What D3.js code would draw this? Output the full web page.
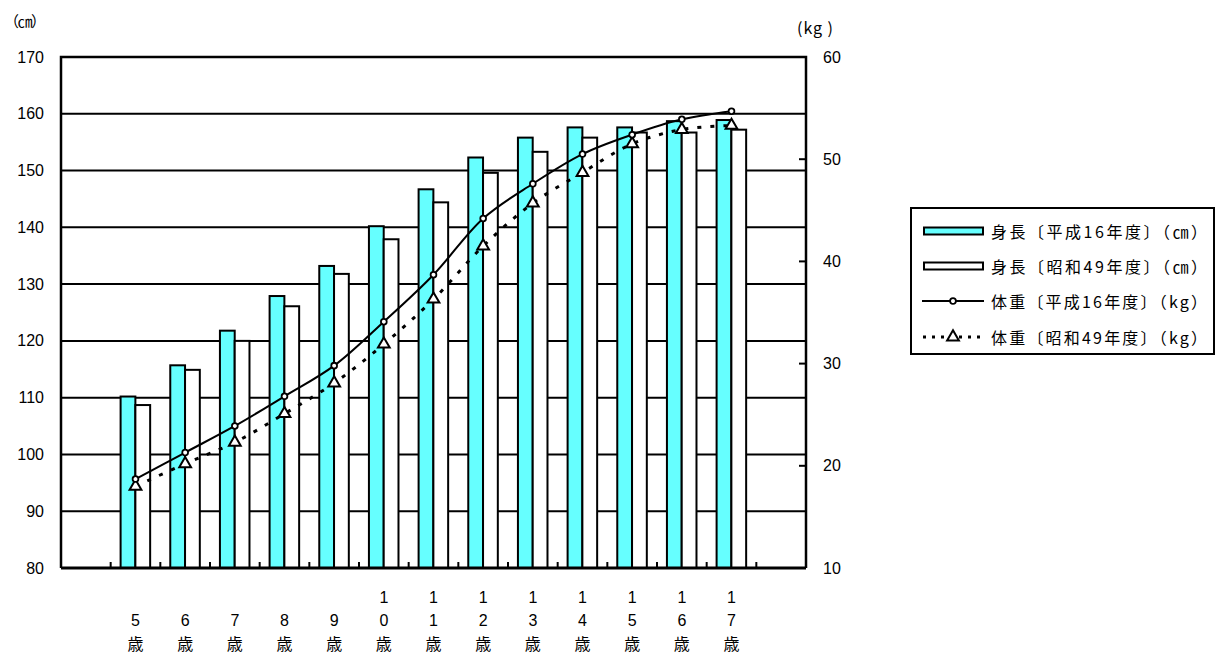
<!DOCTYPE html>
<html><head><meta charset="utf-8">
<script src="https://cdn.jsdelivr.net/npm/d3@7"></script>
<style>
html,body{margin:0;padding:0;background:#fff;}
svg{display:block;}
text{font-family:"Liberation Sans","Noto Sans CJK JP",sans-serif;fill:#000;}
.jp{font-family:"Noto Sans CJK JP","Liberation Sans",sans-serif;}
</style>
</head><body>
<svg id="chart" width="1221" height="654"></svg>
<script>
const ages = ["5","6","7","8","9","10","11","12","13","14","15","16","17"];
const heightH16 = [110.2,115.7,121.8,127.9,133.2,140.2,146.7,152.3,155.8,157.6,157.6,158.7,158.9];
const heightS49 = [108.7,114.9,120.0,126.1,131.8,137.9,144.4,149.6,153.3,155.8,156.7,156.7,157.2];
const weightH16 = [18.7,21.3,23.9,26.8,29.8,34.1,38.7,44.2,47.6,50.5,52.4,53.9,54.7];
const weightS49 = [18.0,20.2,22.3,25.1,28.1,31.9,36.3,41.5,45.7,48.7,51.5,52.9,53.3];
const leftTicks = [80,90,100,110,120,130,140,150,160,170];
const rightTicks = [10,20,30,40,50,60];
const legendLabels = ["身長〔平成16年度〕（㎝）","身長〔昭和49年度〕（㎝）","体重〔平成16年度〕（kg）","体重〔昭和49年度〕（kg）"];

const svg = d3.select("#chart");
const L = 61, R = 806, T = 57, B = 568;
const slot = (R - L) / 15;
const x = d3.scaleBand().domain(ages).range([L + slot, R - slot]);
const xs = d3.scaleBand().domain(["h16","s49"]).range([0.2*x.bandwidth(), 0.795*x.bandwidth()]);
const yL = d3.scaleLinear().domain([80,170]).range([B,T]);
const yR = d3.scaleLinear().domain([10,60]).range([B,T]);
const cx = a => x(a) + x.bandwidth()/2;

// gridlines
svg.append("g").selectAll("line").data(leftTicks.filter(v=>v>80 && v<170)).join("line")
  .attr("x1",L).attr("x2",R).attr("y1",d=>yL(d)).attr("y2",d=>yL(d))
  .attr("stroke","#000").attr("stroke-width",2);

// bars
const bars = svg.append("g");
ages.forEach((a,i)=>{
  bars.append("rect").attr("x",x(a)+xs("h16")).attr("width",xs.bandwidth())
    .attr("y",yL(heightH16[i])).attr("height",B-yL(heightH16[i]))
    .attr("fill","#66ffff").attr("stroke","#000").attr("stroke-width",2);
  bars.append("rect").attr("x",x(a)+xs("s49")).attr("width",xs.bandwidth())
    .attr("y",yL(heightS49[i])).attr("height",B-yL(heightS49[i]))
    .attr("fill","#fff").attr("stroke","#000").attr("stroke-width",2);
});

// plot frame
svg.append("path").attr("d",`M${L},${B}V${T}H${R}V${B}`).attr("fill","none").attr("stroke","#000").attr("stroke-width",2.5);
svg.append("line").attr("x1",L).attr("x2",R).attr("y1",B).attr("y2",B).attr("stroke","#000").attr("stroke-width",3);

// x ticks (inward) at category boundaries
const bounds = ages.map(a=>x(a)).concat([x(ages[ages.length-1])+x.bandwidth()]);
svg.append("g").selectAll("line").data(bounds).join("line")
  .attr("x1",d=>d).attr("x2",d=>d).attr("y1",B).attr("y2",B-6)
  .attr("stroke","#000").attr("stroke-width",2);

// right ticks
svg.append("g").selectAll("line").data(rightTicks).join("line")
  .attr("x1",R).attr("x2",R-7).attr("y1",d=>yR(d)).attr("y2",d=>yR(d))
  .attr("stroke","#000").attr("stroke-width",2);

// left tick labels
svg.append("g").selectAll("text").data(leftTicks).join("text")
  .attr("x",44).attr("y",d=>yL(d)).attr("text-anchor","end").attr("dominant-baseline","central")
  .attr("font-size",16).text(d=>d);
// right tick labels
svg.append("g").selectAll("text").data(rightTicks).join("text")
  .attr("x",823).attr("y",d=>yR(d)).attr("text-anchor","start").attr("dominant-baseline","central")
  .attr("font-size",16).text(d=>d);

// unit labels
svg.append("text").attr("class","jp").attr("x",4).attr("y",20).attr("dominant-baseline","central").attr("font-size",15).attr("textLength",42).attr("lengthAdjust","spacing").text("（㎝）");
svg.append("text").attr("class","jp").attr("x",797).attr("y",27).attr("dominant-baseline","central").attr("font-size",16).attr("textLength",36).attr("lengthAdjust","spacing").text("(kg )");

// x labels stacked vertically
const xl = svg.append("g");
ages.forEach(a=>{
  const chars = a.split("").concat(["歳"]);
  chars.forEach((c,j)=>{
    const row = j - (chars.length - 1); // last row = 0
    xl.append("text").attr("class", c==="歳"?"jp":null)
      .attr("x",cx(a)).attr("y",643 + row*23).attr("text-anchor","middle")
      .attr("dominant-baseline","central").attr("font-size",16).text(c);
  });
});

// lines
const lineH = d3.line().x((d,i)=>cx(ages[i])).y(d=>yR(d)).curve(d3.curveCatmullRom.alpha(0.5));
svg.append("path").attr("d",lineH(weightS49)).attr("fill","none").attr("stroke","#000")
  .attr("stroke-width",3).attr("stroke-dasharray","4,9");
svg.append("path").attr("d",lineH(weightH16)).attr("fill","none").attr("stroke","#000")
  .attr("stroke-width",2);

const tri = d3.symbol().type(d3.symbolTriangle).size(60);
const dot = d3.symbol().type(d3.symbolCircle).size(26);
svg.append("g").selectAll("path").data(weightS49).join("path")
  .attr("transform",(d,i)=>`translate(${cx(ages[i])},${yR(d)})`).attr("d",tri)
  .attr("fill","#fff").attr("stroke","#000").attr("stroke-width",2);
svg.append("g").selectAll("path").data(weightH16).join("path")
  .attr("transform",(d,i)=>`translate(${cx(ages[i])},${yR(d)})`).attr("d",dot)
  .attr("fill","#fff").attr("stroke","#000").attr("stroke-width",1.8);

// legend
const lg = svg.append("g");
lg.append("rect").attr("x",911).attr("y",208).attr("width",303).attr("height",146)
  .attr("fill","#fff").attr("stroke","#000").attr("stroke-width",2);
const rows = [231,266,301,337];
lg.append("rect").attr("x",924).attr("y",rows[0]-3.5).attr("width",59).attr("height",7)
  .attr("fill","#66ffff").attr("stroke","#000").attr("stroke-width",2);
lg.append("rect").attr("x",924).attr("y",rows[1]-3.5).attr("width",59).attr("height",7)
  .attr("fill","#fff").attr("stroke","#000").attr("stroke-width",2);
lg.append("line").attr("x1",922).attr("x2",984).attr("y1",rows[2]).attr("y2",rows[2]).attr("stroke","#000").attr("stroke-width",2);
lg.append("path").attr("transform",`translate(953,${rows[2]})`).attr("d",dot).attr("fill","#fff").attr("stroke","#000").attr("stroke-width",1.8);
lg.append("line").attr("x1",923).attr("x2",984).attr("y1",rows[3]).attr("y2",rows[3]).attr("stroke","#000").attr("stroke-width",3).attr("stroke-dasharray","3,6");
lg.append("path").attr("transform",`translate(953,${rows[3]})`).attr("d",tri).attr("fill","#fff").attr("stroke","#000").attr("stroke-width",2);
lg.selectAll("text.lab").data(legendLabels).join("text").attr("class","jp lab")
  .attr("x",991).attr("y",(d,i)=>rows[i]).attr("dominant-baseline","central")
  .attr("font-size",16).attr("textLength",216).attr("lengthAdjust","spacing").text(d=>d);
</script>
</body></html>
